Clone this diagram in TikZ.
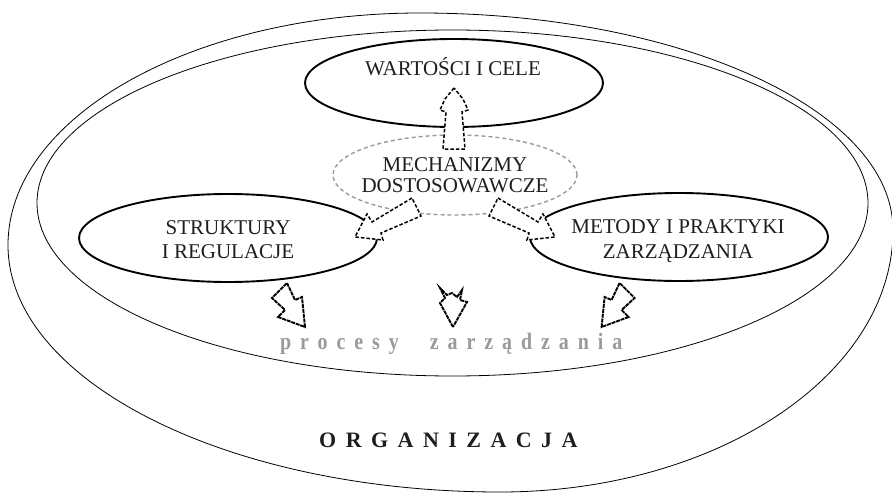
\documentclass[tikz,border=0pt]{standalone}
\usepackage{fontspec}
\setmainfont{Liberation Serif}
\newfontfamily\procfont[FakeStretch=0.85]{Liberation Serif}
\usetikzlibrary{shapes.geometric}
\definecolor{txt}{HTML}{1E1E1E}
\definecolor{lgray}{HTML}{9A9A9A}
\begin{document}
\begin{tikzpicture}[x=1pt,y=-1pt,
  bigell/.style={draw, ellipse, line width=0.8pt, inner sep=0pt},
  mainell/.style={draw, ellipse, line width=1.9pt, inner sep=0pt, minimum width=298pt, minimum height=88pt},
  mechell/.style={draw=lgray, ellipse, dash pattern=on 4pt off 3pt, line width=1.4pt, inner sep=0pt, minimum width=244pt, minimum height=80pt},
  lbl/.style={text=txt, align=center, inner sep=0pt, font=\fontsize{21}{24.5}\selectfont},
  dasharrow/.style={draw, fill=white, line width=1.5pt, dash pattern=on 3.5pt off 2pt, line join=miter},
  solarrow/.style={draw, fill=white, line width=1.9pt, dash pattern=on 4pt off 0.8pt, line join=miter},
]
\useasboundingbox (0,0) rectangle (892,495);
% organisation (outer egg-like contour)
\coordinate (oL) at (8,245);
\coordinate (oT) at (420,13);
\coordinate (oR) at (893,230);
\coordinate (oB) at (500,492);
\draw[line width=0.8pt] (oL) .. controls (8,117) and (192.6,13) .. (oT)
  .. controls (681,13) and (893,110.2) .. (oR)
  .. controls (893,374.6) and (717,492) .. (oB)
  .. controls (228.4,492) and (8,381.3) .. (oL) -- cycle;
\node[bigell, minimum width=831pt, minimum height=346pt] (inner) at (452.5,203) {};
% main ellipses
\node[mainell] (wc) at (454,83) {};
\node[mechell] (mech) at (455,175) {};
\node[mainell] (sr) at (228,238) {};
\node[mainell] (mp) at (679,237) {};
% labels
\node[lbl, anchor=base] (wct) at (453,75.5) {WARTOŚCI I CELE};
\node[lbl, font=\fontsize{21}{21.5}\selectfont] (mecht) at (455,175) {MECHANIZMY\\DOSTOSOWAWCZE};
\node[lbl] (srt) at (228,239.5) {STRUKTURY\\I REGULACJE};
\node[lbl] (mpt) at (678,241) {METODY I PRAKTYKI\\ZARZĄDZANIA};
% dashed block arrows from mechanisms
\draw[dasharrow] (454,88) -- (445,99) -- (440,110) -- (446,112) -- (443,149)
  -- (465,149) -- (462,112) -- (468,110) -- (463,99) -- cycle;
\draw[dasharrow] (412,198) -- (372,222) -- (367,214) -- (355,237) -- (383,240)
  -- (381,233) -- (421,216) -- cycle;
\draw[dasharrow] (498,198) -- (538,222) -- (543,214) -- (555,237) -- (527,240)
  -- (529,233) -- (489,216) -- cycle;
% arrows towards management processes
\draw[solarrow] (287,283) -- (295,300) -- (302,297) -- (305,327) -- (278,317)
  -- (285,310) -- (272,298) -- cycle;
\draw[solarrow] (453,327) -- (440,303) -- (445,298) -- (440,288) -- (447,295)
  -- (452,293) -- (457,297) -- (462,290) -- (460,300) -- (467,302) -- cycle;
\draw[solarrow] (619.6,283) -- (611.6,300) -- (604.6,297) -- (601.6,327) -- (628.6,317)
  -- (621.6,310) -- (634.6,298) -- cycle;
% texts
\node[anchor=base west, inner sep=0pt, text=lgray,
  font=\procfont\fontsize{23.5}{26}\bfseries\addfontfeatures{LetterSpace=38}] (proc) at (280,349)
  {procesy\hspace{31pt}zarządzania};
\node[anchor=base west, inner sep=0pt, text=txt,
  font=\fontsize{22}{26}\bfseries\addfontfeatures{LetterSpace=43}] (orgt) at (319,447)
  {ORGANIZACJA};
\end{tikzpicture}
\end{document}
